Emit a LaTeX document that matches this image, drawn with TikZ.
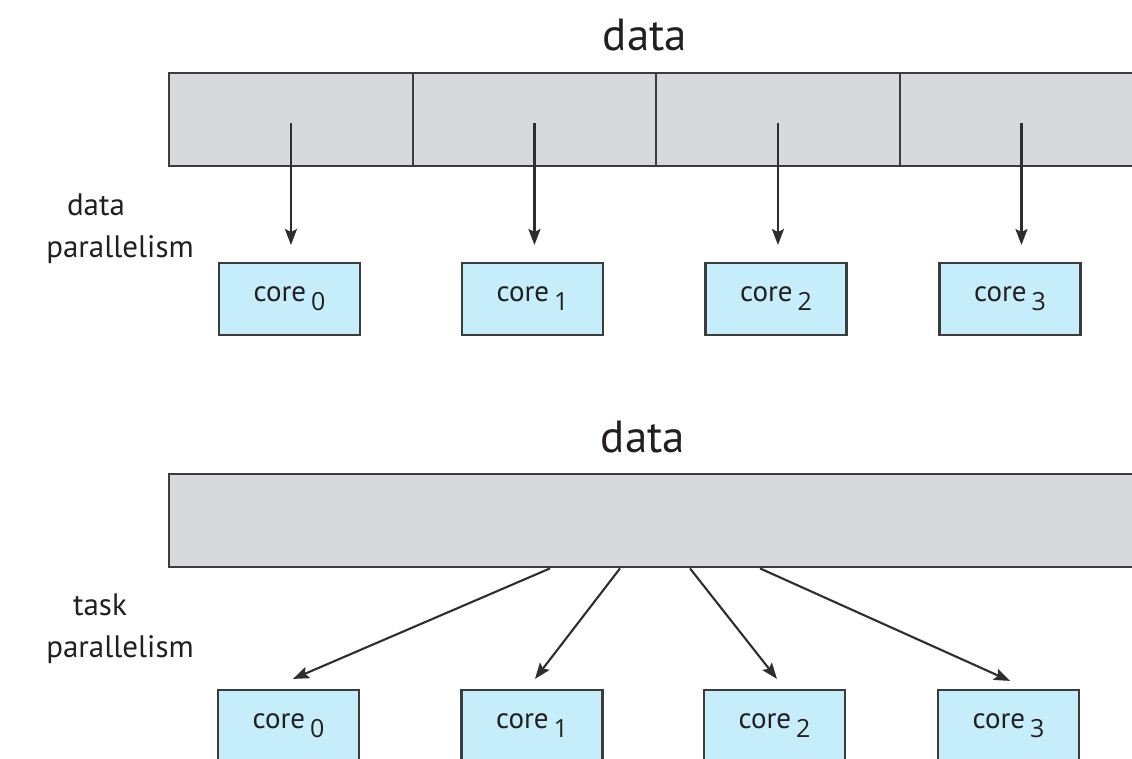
\documentclass[tikz,border=0pt]{standalone}
\usepackage{fontspec}
\setmainfont{PT Sans}
\newfontfamily\digitfont{Open Sans}
\usetikzlibrary{arrows.meta,positioning}
\definecolor{txt}{HTML}{231F20}
\definecolor{edge}{HTML}{3C3C3E}
\definecolor{graybox}{HTML}{D8D9DB}
\definecolor{cyanbox}{HTML}{C6EEFA}
\definecolor{arrowc}{HTML}{2E2E30}
\tikzset{
  cell/.style={draw=edge, line width=2.4pt, fill=graybox, minimum width=243.5pt, minimum height=93pt, inner sep=0pt, anchor=north west},
  corebox/.style={draw=edge, line width=2.2pt, fill=cyanbox, minimum width=141pt, minimum height=72pt, inner sep=0pt, text=txt, font=\fontsize{29}{32}\selectfont},
  bigtitle/.style={text=txt, font=\fontsize{45}{50}\selectfont, inner sep=0pt},
  sidelabel/.style={text=txt, font=\fontsize{31}{36}\selectfont, inner sep=0pt},
  arr/.style={draw=arrowc, line width=2.1pt, -{Stealth[length=16pt,width=12pt,inset=3pt]}}
}
\newcommand{\corelabel}[1]{core\,\raisebox{-9pt}{\digitfont\fontsize{25}{28}\selectfont #1}}
\begin{document}
\begin{tikzpicture}[x=1pt,y=-1pt]
\useasboundingbox (0,0) rectangle (1132,758);
\clip (0,0) rectangle (1132,758);
\fill[white] (0,0) rectangle (1132,758);

% ---------- data parallelism ----------
\node[bigtitle] (t1) at (645,35) {data};
\node[cell] (c0) at (168,72) {};
\node[cell] (c1) at (411.5,72) {};
\node[cell] (c2) at (655,72) {};
\node[cell] (c3) at (898.5,72) {};

\node[sidelabel] (l1a) at (96,205) {data};
\node[sidelabel] (l1b) at (120,250) {parallelism};

\node[corebox] (a0) at (289.5,299) {\corelabel{0}};
\node[corebox] (a1) at (532.5,299) {\corelabel{1}};
\node[corebox] (a2) at (776,299) {\corelabel{2}};
\node[corebox] (a3) at (1010,299) {\corelabel{3}};

\coordinate (s0) at ([yshift=-3.5pt]c0.center);
\coordinate (s1) at ([yshift=-3.5pt]c1.center);
\coordinate (s2) at ([yshift=-3.5pt]c2.center);
\coordinate (s3) at ([yshift=-3.5pt]c3.center);
\draw[arr] (s0) -- (s0 |- 0,245);
\draw[arr] (s1) -- (s1 |- 0,245);
\draw[arr] (s2) -- (s2 |- 0,245);
\draw[arr] (s3) -- (s3 |- 0,245);

% ---------- task parallelism ----------
\node[bigtitle] (t2) at (643,437) {data};
\node[draw=edge, line width=2.4pt, fill=graybox, minimum width=973pt, minimum height=93pt, inner sep=0pt, anchor=north west] (bb) at (168,473) {};

\node[sidelabel] (l2a) at (100,605) {task};
\node[sidelabel] (l2b) at (120,650) {parallelism};

\node[corebox] (b0) at (288.5,726) {\corelabel{0}};
\node[corebox] (b1) at (532,726) {\corelabel{1}};
\node[corebox] (b2) at (774.5,726) {\corelabel{2}};
\node[corebox] (b3) at (1008.5,726) {\corelabel{3}};

\coordinate (u0) at ([xshift=382pt]bb.south west);
\coordinate (u1) at ([xshift=452pt]bb.south west);
\coordinate (u2) at ([xshift=522pt]bb.south west);
\coordinate (u3) at ([xshift=592pt]bb.south west);
\draw[arr] (u0) -- ([xshift=4.5pt,yshift=10pt]b0.north);
\draw[arr] (u1) -- ([xshift=3pt,yshift=10pt]b1.north);
\draw[arr] (u2) -- ([xshift=2.5pt,yshift=10pt]b2.north);
\draw[arr] (u3) -- ([xshift=1.5pt,yshift=8pt]b3.north);
\end{tikzpicture}
\end{document}
